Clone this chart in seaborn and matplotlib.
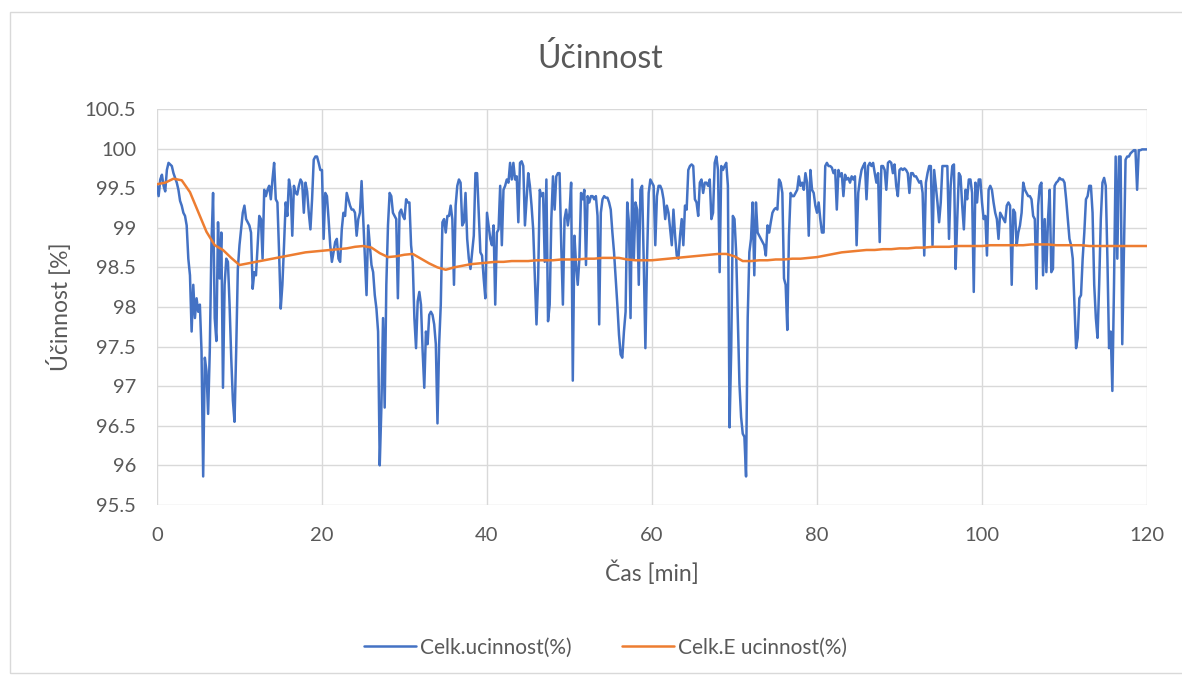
import numpy as np
import pandas as pd
import matplotlib
matplotlib.use("Agg")
import matplotlib.pyplot as plt
from matplotlib.ticker import FuncFormatter, MultipleLocator
from matplotlib.patches import Rectangle
import seaborn as sns

# Total efficiency, sampled every 0.2 min (one row = 2 minutes)
SAMPLE_STEP_MIN = 0.2
total_eff = [
    # 0 - 20 min
    99.53, 99.40, 99.61, 99.67, 99.53, 99.46, 99.73, 99.82, 99.80, 99.78,
    99.69, 99.63, 99.57, 99.48, 99.34, 99.28, 99.19, 99.15, 99.03, 98.61,
    98.40, 97.69, 98.28, 97.86, 98.11, 97.94, 98.03, 97.44, 95.86, 97.36,
    97.19, 96.65, 97.44, 98.78, 99.44, 97.86, 97.57, 99.07, 98.36, 98.94,
    96.98, 98.28, 98.61, 98.57, 98.03, 97.36, 96.82, 96.55, 97.44, 98.48,
    98.78, 98.98, 99.19, 99.28, 99.11, 99.07, 99.03, 98.94, 98.23, 98.44,
    98.40, 98.78, 99.15, 99.11, 98.61, 99.48, 99.40, 99.48, 99.53, 99.36,
    99.61, 99.82, 99.36, 99.32, 98.69, 97.98, 98.28, 98.78, 99.32, 99.15,
    99.61, 99.48, 98.90, 99.53, 99.44, 99.42, 99.53, 99.61, 99.57, 99.19,
    99.57, 99.46, 99.19, 98.98, 99.36, 99.86, 99.90, 99.90, 99.82, 99.73,
    # 20 - 40 min
    99.73, 98.86, 99.44, 99.40, 99.11, 98.78, 98.57, 98.69, 98.82, 98.86,
    98.61, 98.57, 98.98, 99.19, 99.15, 99.44, 99.36, 99.28, 99.23, 99.23,
    99.19, 98.90, 99.11, 99.19, 99.59, 99.11, 98.61, 98.15, 99.03, 98.78,
    98.53, 98.44, 98.15, 97.98, 97.69, 96.00, 96.73, 97.86, 96.73, 98.28,
    99.03, 99.44, 99.40, 99.19, 99.15, 99.11, 98.11, 99.19, 99.23, 99.15,
    99.11, 99.36, 99.32, 99.32, 98.78, 98.57, 97.86, 97.48, 98.07, 98.19,
    98.03, 97.44, 96.98, 97.69, 97.53, 97.90, 97.94, 97.90, 97.78, 97.53,
    96.53, 97.53, 98.03, 99.07, 99.11, 98.94, 99.15, 99.15, 99.28, 99.11,
    98.28, 99.28, 99.53, 99.61, 99.57, 99.03, 99.07, 99.44, 98.86, 98.61,
    98.48, 98.69, 98.90, 99.69, 99.69, 99.19, 98.69, 98.65, 98.36, 98.11,
    # 40 - 60 min
    99.19, 99.03, 98.86, 98.78, 99.03, 98.03, 98.94, 98.98, 99.53, 98.78,
    99.48, 99.53, 99.61, 99.57, 99.82, 99.61, 99.82, 99.61, 99.65, 99.07,
    99.82, 99.84, 99.78, 99.03, 99.36, 99.69, 99.53, 99.28, 98.98, 98.36,
    97.78, 98.36, 99.48, 99.40, 99.44, 98.57, 99.61, 97.82, 98.03, 99.11,
    99.65, 99.23, 99.65, 99.69, 99.69, 98.78, 98.03, 99.11, 99.23, 99.03,
    99.19, 99.57, 97.07, 98.90, 98.53, 98.28, 98.61, 99.44, 99.36, 99.48,
    98.53, 99.40, 99.32, 99.40, 99.40, 99.36, 99.40, 99.15, 97.78, 99.19,
    99.36, 99.40, 99.38, 99.38, 99.32, 99.23, 98.94, 98.69, 98.36, 98.03,
    97.65, 97.40, 97.36, 97.69, 97.94, 99.32, 99.07, 97.86, 99.61, 98.61,
    99.32, 99.23, 98.28, 99.48, 99.53, 98.57, 97.48, 98.61, 99.44, 99.61,
    # 60 - 80 min
    99.57, 99.53, 98.78, 99.40, 99.53, 99.53, 99.48, 99.36, 99.11, 99.28,
    99.19, 98.98, 98.78, 99.23, 98.90, 98.65, 98.61, 98.90, 99.11, 98.78,
    99.28, 99.23, 99.73, 99.78, 99.80, 99.78, 99.36, 99.32, 99.15, 99.57,
    99.61, 99.44, 99.57, 99.57, 99.53, 99.61, 99.11, 99.19, 99.82, 99.90,
    99.73, 98.44, 99.78, 99.73, 99.78, 99.82, 99.53, 96.48, 97.44, 99.15,
    99.11, 98.69, 97.86, 97.03, 96.61, 96.40, 96.36, 95.86, 97.86, 98.69,
    98.86, 99.32, 98.40, 99.32, 98.94, 98.90, 98.86, 98.82, 98.78, 98.65,
    99.03, 98.94, 99.07, 99.19, 99.23, 99.25, 99.23, 99.61, 99.57, 99.44,
    98.36, 98.28, 97.71, 98.90, 99.44, 99.40, 99.40, 99.44, 99.48, 99.65,
    99.53, 99.57, 99.48, 99.69, 99.57, 98.90, 99.73, 99.48, 99.44, 99.28,
    # 80 - 100 min
    99.19, 99.32, 99.11, 98.94, 98.94, 99.78, 99.82, 99.78, 99.78, 99.76,
    99.69, 99.73, 99.23, 99.73, 99.65, 99.69, 99.40, 99.67, 99.61, 99.63,
    99.57, 99.65, 99.61, 99.65, 98.78, 99.44, 99.61, 99.73, 99.78, 99.82,
    99.36, 99.78, 99.82, 99.78, 99.82, 99.69, 99.57, 99.69, 98.82, 99.78,
    99.78, 99.73, 99.48, 99.82, 99.84, 99.82, 99.69, 99.80, 99.53, 99.40,
    99.73, 99.75, 99.73, 99.75, 99.73, 99.69, 99.44, 99.69, 99.69, 99.65,
    99.65, 99.61, 99.57, 99.59, 99.44, 98.65, 99.57, 99.69, 99.78, 99.78,
    98.78, 99.73, 99.53, 99.32, 99.07, 99.32, 99.78, 99.78, 99.78, 99.78,
    98.86, 99.53, 99.78, 99.80, 98.48, 99.11, 99.69, 99.65, 99.28, 98.98,
    99.48, 99.36, 99.61, 99.61, 99.44, 98.19, 99.57, 99.32, 99.61, 99.61,
    # 100 - 120 min
    99.32, 99.11, 99.15, 98.65, 99.48, 99.53, 99.48, 99.32, 99.19, 99.11,
    98.86, 99.19, 99.15, 99.11, 99.07, 99.28, 99.32, 99.28, 98.28, 99.23,
    99.19, 98.78, 98.94, 99.03, 99.19, 99.57, 99.48, 99.44, 99.40, 99.40,
    99.36, 99.15, 99.11, 98.23, 99.28, 99.53, 99.57, 98.40, 99.11, 98.44,
    99.11, 99.48, 98.44, 98.48, 99.53, 99.57, 99.59, 99.63, 99.61, 99.61,
    99.57, 99.36, 99.11, 98.86, 98.78, 98.61, 98.03, 97.48, 97.61, 98.11,
    98.15, 98.61, 98.94, 99.36, 99.40, 99.53, 99.53, 99.19, 98.28, 97.86,
    97.61, 98.28, 99.11, 99.57, 99.63, 99.53, 98.61, 97.48, 97.69, 96.94,
    98.28, 99.90, 98.61, 99.90, 99.90, 97.53, 98.69, 99.86, 99.90, 99.90,
    99.94, 99.96, 99.98, 99.98, 99.48, 99.98, 99.98, 99.99, 99.99, 99.99,
    99.99,
]

# Energy efficiency, one value per minute
energy_eff = [
    99.55, 99.57, 99.62, 99.60, 99.45, 99.20, 98.95, 98.78, 98.72, 98.62,
    98.53, 98.55, 98.57, 98.59, 98.61, 98.63, 98.65, 98.67, 98.69, 98.70,
    98.71, 98.72, 98.73, 98.74, 98.76, 98.77, 98.75, 98.68, 98.63, 98.64,
    98.66, 98.67, 98.61, 98.55, 98.50, 98.47, 98.50, 98.52, 98.54, 98.55,
    98.56, 98.57, 98.57, 98.58, 98.58, 98.58, 98.59, 98.59, 98.59, 98.60,
    98.60, 98.60, 98.61, 98.61, 98.62, 98.62, 98.62, 98.60, 98.59, 98.59,
    98.59, 98.60, 98.61, 98.62, 98.63, 98.64, 98.65, 98.66, 98.67, 98.67,
    98.64, 98.58, 98.58, 98.59, 98.59, 98.60, 98.60, 98.61, 98.61, 98.62,
    98.63, 98.65, 98.67, 98.69, 98.70, 98.71, 98.72, 98.72, 98.73, 98.73,
    98.74, 98.74, 98.75, 98.75, 98.76, 98.76, 98.76, 98.77, 98.77, 98.77,
    98.77, 98.78, 98.78, 98.78, 98.78, 98.78, 98.79, 98.79, 98.79, 98.78,
    98.78, 98.78, 98.78, 98.77, 98.77, 98.77, 98.77, 98.77, 98.77, 98.77,
    98.77,
]

title = "Účinnost"
x_label = "Čas [min]"
y_label = "Účinnost [%]"
series_names = ["Celk.ucinnost(%)", "Celk.E ucinnost(%)"]
x_ticks = [0, 20, 40, 60, 80, 100, 120]

df_total = pd.DataFrame({
    "minute": np.round(np.arange(len(total_eff)) * SAMPLE_STEP_MIN, 1),
    "value": total_eff,
})
df_energy = pd.DataFrame({
    "minute": np.arange(len(energy_eff), dtype=float),
    "value": energy_eff,
})

sns.set_theme(style="white")
plt.rcParams["font.family"] = ["Lato", "DejaVu Sans"]

TEXT = "#595959"
GRID = "#D9D9D9"
BLUE = "#4472C4"
ORANGE = "#ED7D31"

fig = plt.figure(figsize=(11.82, 6.75), dpi=100)
ax = fig.add_axes([0.1328, 0.2519, 0.8376, 0.5866])

sns.lineplot(data=df_total, x="minute", y="value", ax=ax, color=BLUE,
             linewidth=1.8, label=series_names[0], estimator=None, sort=False)
sns.lineplot(data=df_energy, x="minute", y="value", ax=ax, color=ORANGE,
             linewidth=1.8, label=series_names[1], estimator=None, sort=False)

ax.set_xlim(0, 120)
ax.set_ylim(95.5, 100.5)
ax.set_xticks(x_ticks)
ax.yaxis.set_major_locator(MultipleLocator(0.5))
ax.yaxis.set_major_formatter(FuncFormatter(lambda v, _: f"{v:g}"))

ax.grid(True, color=GRID, linewidth=1.0)
ax.set_axisbelow(True)
for s in ax.spines.values():
    s.set_visible(False)
ax.tick_params(axis="both", length=0, labelsize=14.5, colors=TEXT)
ax.tick_params(axis="y", pad=15)
ax.tick_params(axis="x", pad=16)

ax.set_xlabel(x_label, fontsize=16.5, color=TEXT, labelpad=12)
ax.set_ylabel(y_label, fontsize=16.5, color=TEXT, labelpad=9)
fig.text(0.508, 0.914, title, ha="center", va="center", fontsize=23, color=TEXT)

leg = ax.legend(loc="center", bbox_to_anchor=(0.453, -0.36), ncol=2,
                frameon=False, fontsize=15, handlelength=2.5,
                columnspacing=2.4, handletextpad=0.2)
for t in leg.get_texts():
    t.set_color(TEXT)

# Light chart frame
fig.patches.append(Rectangle((10 / 1182, 2 / 675), 1.2, 661 / 675,
                             transform=fig.transFigure, fill=False,
                             edgecolor=GRID, linewidth=1.0))

fig.savefig("out.png", dpi=100, facecolor="white")
